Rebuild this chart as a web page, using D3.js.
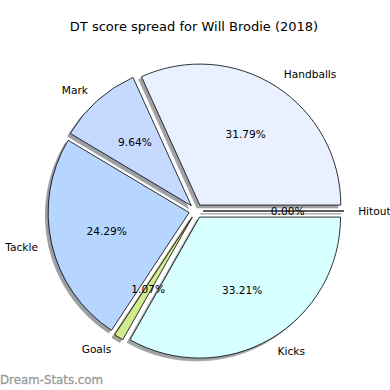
<!DOCTYPE html>
<head>
<meta charset="UTF-8">
<style>
body { margin: 0; background: white; }
svg { font-family: "DejaVu Sans", sans-serif; }
</style>
</head>
<svg width="390" height="390"></svg>
<script src="https://d3js.org/d3.v7.min.js"></script>
<script>
var labels = ["Handballs", "Mark", "Tackle", "Goals", "Kicks", "Hitout"];
var values = [31.79, 9.64, 24.29, 1.07, 33.21, 0.00];
var colors = ["#e9f0ff", "#c6d9ff", "#b6d5ff", "#d0ec8e", "#d8ffff", "#f0e0ff"];

var svg = d3.select("svg");
var cx = 196, cy = 211, r = 141;
var explode = 0.05 * r;
var shadowOff = 0.02 * r;

svg.append("text")
    .attr("x", 194).attr("y", 31)
    .attr("text-anchor", "middle")
    .style("font-size", "13px")
    .text("DT score spread for Will Brodie (2018)");

// matplotlib: start at 3 o'clock, counterclockwise
var pie = d3.pie().sort(null)
    .startAngle(Math.PI / 2)
    .endAngle(Math.PI / 2 - 2 * Math.PI);
var arcs = pie(values);

var arc = d3.arc().innerRadius(0).outerRadius(r);

function wedgePath(d) {
    if (d.startAngle === d.endAngle) {
        var a = d.startAngle;
        return "M0,0L" + (r * Math.sin(a)) + "," + (-r * Math.cos(a)) + "Z";
    }
    return arc(d);
}
function offset(d, k) {
    var m = (d.startAngle + d.endAngle) / 2;
    return [k * Math.sin(m), -k * Math.cos(m)];
}

var g = svg.append("g").attr("transform", "translate(" + cx + "," + cy + ")");

// shadows below all wedges
g.selectAll("path.shadow")
    .data(arcs)
    .enter().append("path")
    .attr("class", "shadow")
    .attr("d", wedgePath)
    .attr("transform", function(d) {
        var o = offset(d, explode);
        return "translate(" + (o[0] - shadowOff) + "," + (o[1] + shadowOff) + ")";
    })
    .attr("fill", function(d, i) { var c = d3.rgb(colors[i]); return d3.rgb(c.r * 0.3, c.g * 0.3, c.b * 0.3); })
    .attr("stroke", function(d, i) { var c = d3.rgb(colors[i]); return d3.rgb(c.r * 0.3, c.g * 0.3, c.b * 0.3); })
    .attr("stroke-width", 0.8)
    .attr("opacity", 0.5);

g.selectAll("path.wedge")
    .data(arcs)
    .enter().append("path")
    .attr("class", "wedge")
    .attr("d", wedgePath)
    .attr("transform", function(d) {
        var o = offset(d, explode);
        return "translate(" + o[0] + "," + o[1] + ")";
    })
    .attr("fill", function(d, i) { return colors[i]; })
    .attr("stroke", "black")
    .attr("stroke-width", 0.8)
    .attr("stroke-linejoin", "miter");

// labels at 1.1 r
g.selectAll("text.label")
    .data(arcs)
    .enter().append("text")
    .attr("class", "label")
    .attr("x", function(d) { var o = offset(d, explode), p = offset(d, 1.1 * r); return o[0] + p[0]; })
    .attr("y", function(d) { var o = offset(d, explode), p = offset(d, 1.1 * r); return o[1] + p[1]; })
    .attr("dy", "0.35em")
    .attr("text-anchor", function(d) { return offset(d, 1)[0] > 0 ? "start" : "end"; })
    .style("font-size", "10.6px")
    .text(function(d, i) { return labels[i]; });

// percentages at 0.6 r
var fmt = d3.format(".2f");
g.selectAll("text.pct")
    .data(arcs)
    .enter().append("text")
    .attr("class", "pct")
    .attr("x", function(d) { var o = offset(d, explode), p = offset(d, 0.6 * r); return o[0] + p[0]; })
    .attr("y", function(d) { var o = offset(d, explode), p = offset(d, 0.6 * r); return o[1] + p[1]; })
    .attr("dy", "0.35em")
    .attr("text-anchor", "middle")
    .style("font-size", "10.6px")
    .text(function(d) { return fmt(d.value) + "%"; });

svg.append("text")
    .attr("x", 0).attr("y", 384)
    .style("font-size", "11.8px")
    .attr("fill", "#9a9a9a")
    .attr("stroke", "#9a9a9a")
    .attr("stroke-width", 0.3)
    .text("Dream-Stats.com");
</script>
